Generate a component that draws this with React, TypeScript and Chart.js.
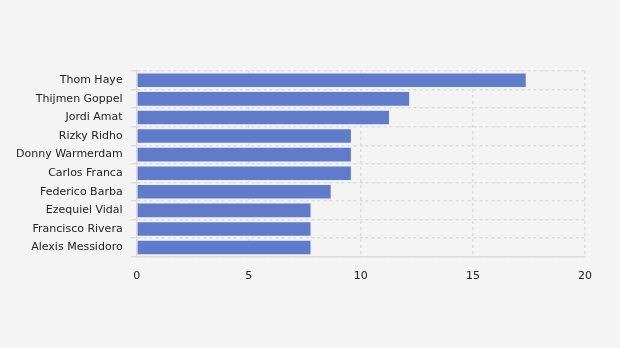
import React, { useEffect, useRef } from "react";
import { Chart, registerables } from "chart.js";
Chart.register(...registerables);

const players = [
  "Thom Haye",
  "Thijmen Goppel",
  "Jordi Amat",
  "Rizky Ridho",
  "Donny Warmerdam",
  "Carlos Franca",
  "Federico Barba",
  "Ezequiel Vidal",
  "Francisco Rivera",
  "Alexis Messidoro",
];
const values = [17.4, 12.2, 11.3, 9.6, 9.6, 9.6, 8.7, 7.8, 7.8, 7.8];
const xTicks = [0, 5, 10, 15, 20];

export default function App() {
  const ref = useRef<HTMLCanvasElement>(null);
  useEffect(() => {
    document.body.style.margin = "0";
    document.body.style.background = "#f4f4f4";
    const chart = new Chart(ref.current!, {
      type: "bar",
      data: {
        labels: players,
        datasets: [
          {
            data: values,
            backgroundColor: "#5f7bc9",
            borderColor: "rgba(235,238,250,0.9)",
            borderWidth: 1,
            categoryPercentage: 1,
            barPercentage: 0.84,
          },
        ],
      },
      options: {
        indexAxis: "y",
        animation: false,
        responsive: false,
        maintainAspectRatio: false,
        layout: { padding: { top: 71, right: 35, left: 8, bottom: 52 } },
        plugins: { legend: { display: false }, tooltip: { enabled: false } },
        scales: {
          x: {
            min: 0,
            max: 20,
            afterBuildTicks: (axis: any) => {
              axis.ticks = xTicks.map((v) => ({ value: v }));
            },
            grid: { color: "#dcdcdc", drawTicks: false, lineWidth: 1.5 },
            border: { dash: [3, 3], color: "#dcdcdc", width: 1.5 },
            ticks: {
              color: "#222",
              font: { family: "DejaVu Sans", size: 11 },
              padding: 13,
            },
          },
          y: {
            grid: { color: "#dcdcdc", tickLength: 6, lineWidth: 1.5 },
            border: { dash: [3, 3], color: "#dcdcdc", width: 1.5 },
            ticks: {
              color: "#222",
              font: { family: "DejaVu Sans", size: 11 },
              padding: 8,
            },
          },
        },
      },
    });
    return () => chart.destroy();
  }, []);
  return (
    <div style={{ width: 620, height: 348, background: "#f4f4f4" }}>
      <canvas ref={ref} width={620} height={348} />
    </div>
  );
}
